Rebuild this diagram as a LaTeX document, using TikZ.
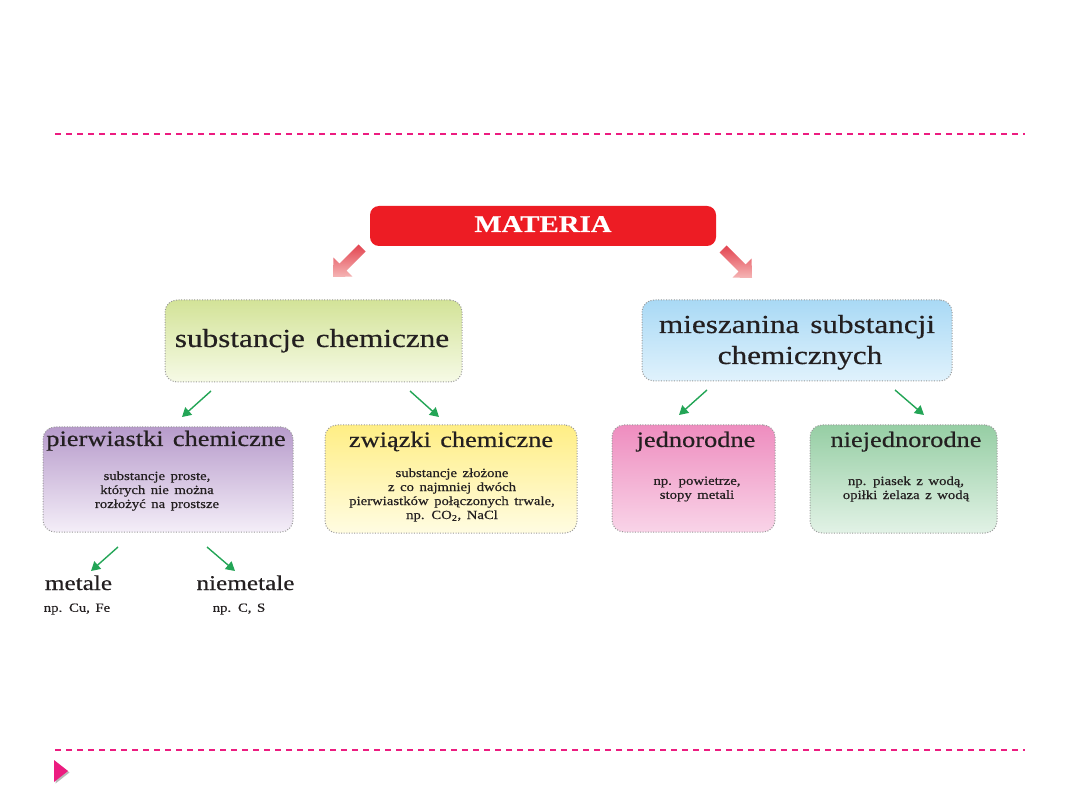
\documentclass[tikz,border=0pt]{standalone}
\usepackage{fontspec}
\setmainfont{Liberation Serif}[FakeStretch=1.2,WordSpace=1.4,FakeBold=0.5]
\newfontfamily\subf{Liberation Serif}[FakeStretch=1.18,WordSpace=1.5,FakeBold=0.4]
\usetikzlibrary{arrows.meta}
\definecolor{txt}{HTML}{231F20}
\definecolor{pinkline}{HTML}{EC1C80}
\definecolor{matred}{HTML}{ED1C24}
\definecolor{arrdark}{HTML}{E34450}
\definecolor{arrlight}{HTML}{F5B5B5}
\definecolor{garr}{HTML}{23A556}
\definecolor{dotgray}{HTML}{9A9A9A}
\definecolor{gTop}{HTML}{D3E398}
\definecolor{gBot}{HTML}{F6FAE6}
\definecolor{bTop}{HTML}{A9D9F5}
\definecolor{bBot}{HTML}{E0F2FC}
\definecolor{pTop}{HTML}{B79BCB}
\definecolor{pBot}{HTML}{F4EEF8}
\definecolor{yTop}{HTML}{FFEE85}
\definecolor{yBot}{HTML}{FFFCE2}
\definecolor{rTop}{HTML}{EE8DBF}
\definecolor{rBot}{HTML}{F9D4E8}
\definecolor{nTop}{HTML}{96CEA4}
\definecolor{nBot}{HTML}{E2F2E6}
\begin{document}
\begin{tikzpicture}[x=1pt,y=-1pt,
  box/.style={draw=dotgray, line width=1pt, dash pattern=on 1pt off 1.6pt,
    rounded corners=12pt, inner sep=0pt},
  ttl/.style={inner sep=0pt, anchor=base, text=txt, font=\fontsize{22}{26}\selectfont},
  big/.style={inner sep=0pt, anchor=base, text=txt, font=\fontsize{26}{26}\selectfont},
  subt/.style={inner sep=0pt, align=center, text=txt, font=\subf\fontsize{12.5}{14}\selectfont},
  garrow/.style={draw=garr, line width=1.4pt, -{Triangle[width=10pt,length=9pt]}},
  pinkdash/.style={draw=pinkline, line width=1.5pt, dash pattern=on 6pt off 5pt}
]
\useasboundingbox (0,0) rectangle (1080,810);
\fill[white] (0,0) rectangle (1080,810);

% decorative lines
\draw[pinkdash] (55,134) -- (1025,134);
\draw[pinkdash] (55,750) -- (1025,750);
\fill[gray!55] (55.5,761.5) -- (69.5,772.5) -- (55.5,783.5) -- cycle;
\fill[pinkline] (54,760) -- (68,771) -- (54,782) -- cycle;

% MATERIA
\node[fill=matred, rounded corners=9pt, minimum width=346pt, minimum height=40pt, inner sep=0pt] (mat) at (543,226) {};
\node[inner sep=0pt, anchor=base, text=white, font=\bfseries\fontsize{24}{26}\selectfont] (matt) at (543,232) {MATERIA};

% red arrows
\shade[top color=arrdark, bottom color=arrlight]
  (358.5,244.5) -- (365.5,251.5) -- (346.4,270.6) -- (352.4,276.6) -- (333,277) -- (333.4,257.6) -- (339.4,263.6) -- cycle;
\shade[top color=arrdark, bottom color=arrlight]
  (726.5,245.5) -- (719.5,252.5) -- (738.6,271.6) -- (732.6,277.6) -- (752,278) -- (751.6,258.6) -- (745.6,264.6) -- cycle;

% level 1
\node[box, top color=gTop, bottom color=gBot, minimum width=297pt, minimum height=82pt] (subst) at (313.5,341) {};
\node[big] (substt) at (312,347) {substancje chemiczne};

\node[box, top color=bTop, bottom color=bBot, minimum width=310pt, minimum height=81pt] (mies) at (797,340.5) {};
\node[big] (miest1) at (797,333) {mieszanina substancji};
\node[big] (miest2) at (800,364) {chemicznych};

% level 2 boxes
\node[box, top color=pTop, bottom color=pBot, minimum width=250pt, minimum height=105pt] (pier) at (168,479.5) {};
\node[ttl] (piert) at (166,446) {pierwiastki chemiczne};
\node[subt] (piers) at (157,491) {substancje proste,\\których nie można\\rozłożyć na prostsze};

\node[box, top color=yTop, bottom color=yBot, minimum width=252pt, minimum height=108pt] (zw) at (451,479) {};
\node[ttl] (zwt) at (451,447) {związki chemiczne};
\node[subt] (zws) at (452,495) {substancje złożone\\z co najmniej dwóch\\pierwiastków połączonych trwale,\\np. CO\textsubscript{2}, NaCl};

\node[box, top color=rTop, bottom color=rBot, minimum width=163pt, minimum height=107pt] (jed) at (693.5,478.5) {};
\node[ttl] (jedt) at (696,447) {jednorodne};
\node[subt] (jeds) at (697,489) {np. powietrze,\\stopy metali};

\node[box, top color=nTop, bottom color=nBot, minimum width=187pt, minimum height=108pt] (niej) at (903.5,479) {};
\node[ttl] (niejt) at (906,447) {niejednorodne};
\node[subt] (niejs) at (906,489) {np. piasek z wodą,\\opiłki żelaza z wodą};

% level 3
\node[inner sep=0pt, anchor=base, text=txt, font=\fontsize{21}{24}\selectfont] (met) at (78.5,590) {metale};
\node[subt] (mets) at (77,609) {np. Cu, Fe};
\node[inner sep=0pt, anchor=base, text=txt, font=\fontsize{21}{24}\selectfont] (nmet) at (245.5,590) {niemetale};
\node[subt] (nmets) at (239,609) {np. C, S};

% green arrows
\coordinate (a1s) at (211,391); \coordinate (a1e) at (182,417);
\coordinate (a2s) at (410,391); \coordinate (a2e) at (439,417);
\coordinate (a3s) at (707,390); \coordinate (a3e) at (679,415);
\coordinate (a4s) at (895,390); \coordinate (a4e) at (924,415);
\coordinate (a5s) at (118,547); \coordinate (a5e) at (91,571);
\coordinate (a6s) at (207,547); \coordinate (a6e) at (235,571);
\draw[garrow] (a1s) -- (a1e);
\draw[garrow] (a2s) -- (a2e);
\draw[garrow] (a3s) -- (a3e);
\draw[garrow] (a4s) -- (a4e);
\draw[garrow] (a5s) -- (a5e);
\draw[garrow] (a6s) -- (a6e);
\end{tikzpicture}
\end{document}
